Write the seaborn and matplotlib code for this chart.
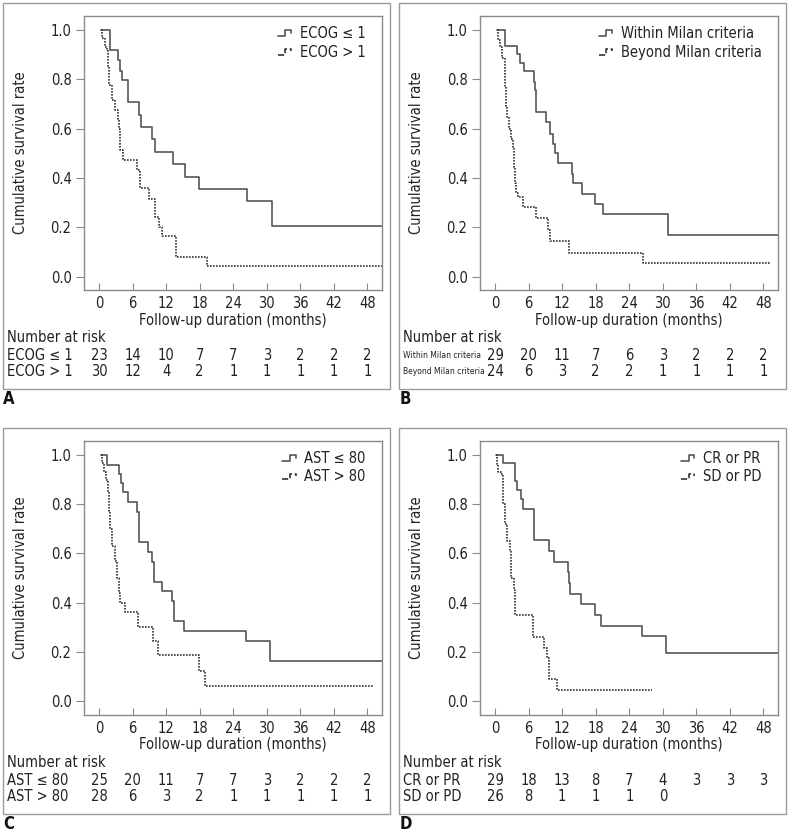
import numpy as np
import pandas as pd
import matplotlib
matplotlib.use("Agg")
import matplotlib.pyplot as plt
import seaborn as sns
from matplotlib.lines import Line2D
from matplotlib.patches import Rectangle
from matplotlib.legend_handler import HandlerBase

# ---------------- data ----------------
risk_times = [0, 6, 12, 18, 24, 30, 36, 42, 48]
x_ticks = [0, 6, 12, 18, 24, 30, 36, 42, 48]
y_ticks = [0.0, 0.2, 0.4, 0.6, 0.8, 1.0]

# Panel A
a_labels = ["ECOG \u2264 1", "ECOG > 1"]
a_t1 = [0.3, 1.9, 3.3, 3.8, 4.1, 5.1, 7.2, 7.5, 9.5, 10.0, 13.2, 15.4, 17.9, 26.4, 30.9, 51]
a_s1 = [1.0, 0.92, 0.878, 0.836, 0.796, 0.709, 0.655, 0.607, 0.557, 0.506, 0.456, 0.406, 0.355, 0.305, 0.204, 0.204]
a_t2 = [0.3, 0.6, 1.0, 1.4, 1.6, 1.8, 2.3, 2.8, 3.3, 3.6, 3.8, 4.3, 6.85, 7.3, 9.0, 10.0, 10.8, 11.3, 13.7, 19.3, 51]
a_s2 = [1.0, 0.967, 0.933, 0.92, 0.85, 0.777, 0.716, 0.675, 0.64, 0.6, 0.513, 0.473, 0.432, 0.358, 0.317, 0.243, 0.2, 0.163, 0.081, 0.045, 0.045]
a_r1 = [23, 14, 10, 7, 7, 3, 2, 2, 2]
a_r2 = [30, 12, 4, 2, 1, 1, 1, 1, 1]

# Panel B
b_labels = ["Within Milan criteria", "Beyond Milan criteria"]
b_t1 = [0.3, 1.75, 4.0, 4.5, 5.25, 7.0, 7.2, 7.4, 9.1, 9.84, 10.3, 10.7, 11.2, 13.7, 14.0, 15.5, 17.9, 19.3, 30.9, 51]
b_s1 = [1.0, 0.936, 0.903, 0.868, 0.832, 0.79, 0.757, 0.667, 0.626, 0.58, 0.54, 0.5, 0.459, 0.418, 0.378, 0.337, 0.294, 0.254, 0.17, 0.17]
b_t2 = [0.3, 0.5, 0.8, 1.3, 1.7, 1.9, 2.2, 2.5, 2.9, 3.2, 3.45, 3.6, 3.75, 4.05, 4.95, 7.3, 9.4, 9.9, 13.2, 26.4, 49.2]
b_s2 = [1.0, 0.96, 0.932, 0.885, 0.77, 0.69, 0.648, 0.6, 0.56, 0.527, 0.44, 0.38, 0.34, 0.324, 0.283, 0.236, 0.19, 0.144, 0.097, 0.054, 0.054]
b_r1 = [29, 20, 11, 7, 6, 3, 2, 2, 2]
b_r2 = [24, 6, 3, 2, 2, 1, 1, 1, 1]

# Panel C
c_labels = ["AST \u2264 80", "AST > 80"]
c_t1 = [0.3, 1.5, 3.6, 3.9, 4.2, 5.15, 6.85, 7.2, 8.8, 9.4, 9.85, 11.2, 13.0, 13.4, 15.2, 26.2, 30.6, 51]
c_s1 = [1.0, 0.96, 0.922, 0.886, 0.848, 0.809, 0.769, 0.648, 0.607, 0.567, 0.486, 0.446, 0.405, 0.324, 0.285, 0.245, 0.163, 0.163]
c_t2 = [0.3, 0.5, 0.8, 1.2, 1.55, 1.7, 2.0, 2.3, 2.9, 3.2, 3.5, 3.7, 4.65, 7.0, 9.7, 10.6, 17.8, 19.0, 49.0]
c_s2 = [1.0, 0.966, 0.932, 0.898, 0.85, 0.77, 0.7, 0.63, 0.57, 0.5, 0.44, 0.40, 0.364, 0.303, 0.243, 0.188, 0.123, 0.063, 0.063]
c_r1 = [25, 20, 11, 7, 7, 3, 2, 2, 2]
c_r2 = [28, 6, 3, 2, 1, 1, 1, 1, 1]

# Panel D
d_labels = ["CR or PR", "SD or PD"]
d_t1 = [0.2, 1.5, 3.6, 4.0, 4.65, 5.06, 6.92, 9.7, 10.6, 13.0, 13.2, 13.4, 15.3, 17.8, 19.0, 26.2, 30.6, 51]
d_s1 = [1.0, 0.966, 0.895, 0.859, 0.822, 0.781, 0.655, 0.61, 0.565, 0.525, 0.478, 0.437, 0.395, 0.35, 0.307, 0.265, 0.197, 0.197]
d_t2 = [0.2, 0.4, 0.6, 1.0, 1.4, 1.7, 2.15, 2.6, 2.9, 3.35, 3.6, 6.74, 8.8, 9.2, 9.6, 11.0, 28.1]
d_s2 = [1.0, 0.96, 0.932, 0.92, 0.8, 0.72, 0.65, 0.61, 0.5, 0.45, 0.35, 0.262, 0.215, 0.174, 0.09, 0.046, 0.046]
d_r1 = [29, 18, 13, 8, 7, 4, 3, 3, 3]
d_r2 = [26, 8, 1, 1, 1, 0]

panels = [
    ("A", a_labels, (a_t1, a_s1), (a_t2, a_s2), a_r1, a_r2),
    ("B", b_labels, (b_t1, b_s1), (b_t2, b_s2), b_r1, b_r2),
    ("C", c_labels, (c_t1, c_s1), (c_t2, c_s2), c_r1, c_r2),
    ("D", d_labels, (d_t1, d_s1), (d_t2, d_s2), d_r1, d_r2),
]

# ---------------- style ----------------
sns.set_style("ticks")
FONT = ["Liberation Sans Narrow", "DejaVu Sans"]
plt.rcParams["font.family"] = FONT
plt.rcParams["font.stretch"] = "condensed"
TXT = "#222222"
GRID = "#8a8a8a"
SOLID_C = "#555555"
DOT_C = "#333333"
FS = 10.5

W, H = 792, 834
fig = plt.figure(figsize=(W / 100, H / 100), dpi=100)

class StepHandler(HandlerBase):
    def create_artists(self, legend, orig_handle, xdescent, ydescent,
                       width, height, fontsize, trans):
        x0, y0 = -xdescent, -ydescent
        xs = [x0, x0 + 0.55 * width, x0 + 0.55 * width, x0 + width, x0 + width]
        ys = [y0 + 0.2 * height, y0 + 0.2 * height, y0 + 0.75 * height,
              y0 + 0.75 * height, y0 + 0.5 * height]
        ln = Line2D(xs, ys, color=orig_handle.get_color(),
                    linestyle=orig_handle.get_linestyle(),
                    linewidth=orig_handle.get_linewidth())
        ln.set_transform(trans)
        return [ln]

offsets = [(0, 0), (396, 0), (0, 424.7), (396, 424.7)]

for (letter, labels, c1, c2, r1, r2), (ox, oy) in zip(panels, offsets):
    # outer frame
    fl, ft, fr, fb = 2.7 + ox, 3.3 + oy, 390 + ox, 389.3 + oy
    fig.patches.append(Rectangle((fl / W, 1 - fb / H), (fr - fl) / W, (fb - ft) / H,
                                 transform=fig.transFigure, fill=False,
                                 edgecolor="#9a9a9a", linewidth=1.0))
    # axes
    al, ar, at, ab = 84 + ox, 382 + ox, 16 + oy, 290 + oy
    ax = fig.add_axes([al / W, 1 - ab / H, (ar - al) / W, (ab - at) / H])

    df = pd.concat([
        pd.DataFrame({"t": c1[0], "s": c1[1], "g": labels[0]}),
        pd.DataFrame({"t": c2[0], "s": c2[1], "g": labels[1]}),
    ])
    sns.lineplot(data=df[df.g == labels[0]], x="t", y="s", ax=ax, estimator=None,
                 sort=False, drawstyle="steps-post", color=SOLID_C, linewidth=1.2,
                 linestyle="-")
    sns.lineplot(data=df[df.g == labels[1]], x="t", y="s", ax=ax, estimator=None,
                 sort=False, drawstyle="steps-post", color=DOT_C, linewidth=1.2,
                 linestyle=(0, (1, 0.8)))

    ax.set_xlim(-2.7, 50.6)
    ax.set_ylim(-0.054, 1.057)
    ax.set_xticks(x_ticks)
    ax.set_yticks(y_ticks)
    ax.set_yticklabels([f"{v:.1f}" for v in y_ticks])
    for sp in ax.spines.values():
        sp.set_visible(True)
        sp.set_color(GRID)
        sp.set_linewidth(1.0)
    ax.tick_params(axis="x", direction="in", length=5, color=GRID, labelsize=FS,
                   labelcolor=TXT, pad=4.5)
    ax.tick_params(axis="y", direction="out", length=6, color=GRID, labelsize=FS,
                   labelcolor=TXT, pad=3)
    ax.set_xlabel("Follow-up duration (months)", fontsize=FS, color=TXT, labelpad=1)
    ax.set_ylabel("Cumulative survival rate", fontsize=FS, color=TXT, labelpad=16)

    handles = ax.get_lines()[:2]
    leg = ax.legend(handles=handles, labels=labels, loc="upper right",
                    bbox_to_anchor=(0.965, 0.985), frameon=False, fontsize=FS,
                    handlelength=0.9, handletextpad=0.6, labelspacing=0.25,
                    borderaxespad=0, handler_map={Line2D: StepHandler()})
    for t in leg.get_texts():
        t.set_color(TXT)

    # risk table
    lx = (7.3 + ox - al) / (ar - al)
    ax.text(lx, (290 - 338) / 274, "Number at risk", transform=ax.transAxes,
            ha="left", va="center", fontsize=FS, color=TXT)
    small = letter == "B"
    for row, (lab, vals) in enumerate(zip(labels, [r1, r2])):
        yy = (290 - (355.5 + 16.5 * row)) / 274
        ax.text(lx, yy, lab, transform=ax.transAxes, ha="left", va="center",
                fontsize=6.1 if small else FS, color=TXT)
        for tt, v in zip(risk_times, vals):
            ax.text(tt, yy, str(v), transform=ax.get_xaxis_transform(),
                    ha="center", va="center", fontsize=FS, color=TXT)

    fig.text((3.3 + ox) / W, 1 - (399 + oy) / H, letter, ha="left", va="center",
             fontsize=12, fontweight="bold", color="#111111")

fig.savefig("out.png", dpi=100)
